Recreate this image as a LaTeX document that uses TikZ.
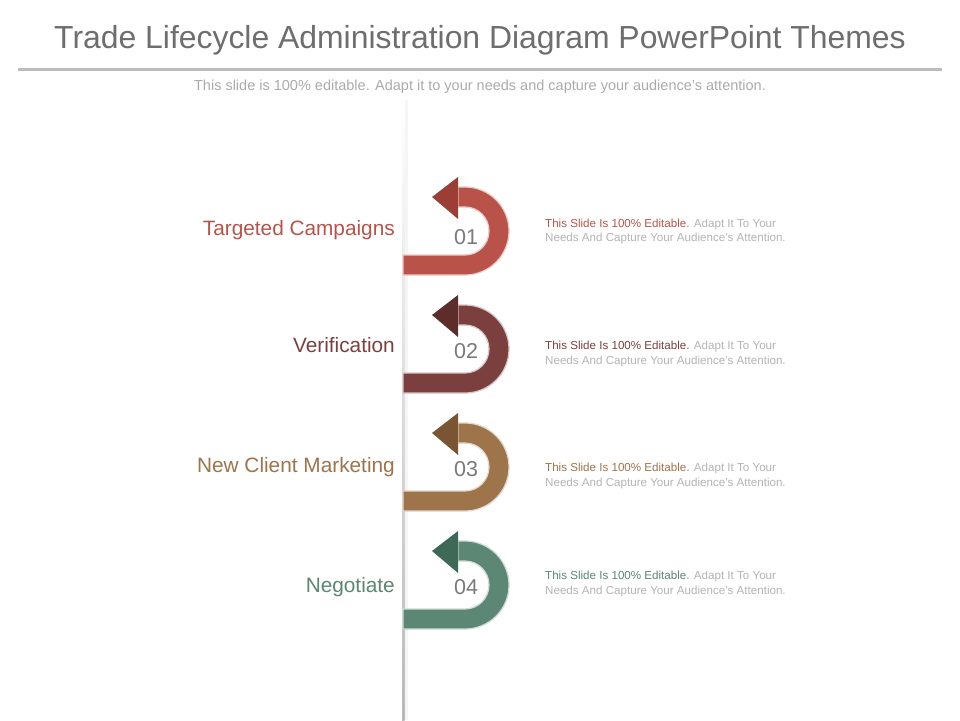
\documentclass[tikz,border=0pt]{standalone}
\usepackage{fontspec}
\setmainfont{Liberation Sans}
\definecolor{ared}{HTML}{B9534A}
\definecolor{hred}{HTML}{9A3E36}
\definecolor{amaroon}{HTML}{7B403E}
\definecolor{hmaroon}{HTML}{5C2D2B}
\definecolor{abrown}{HTML}{9E744B}
\definecolor{hbrown}{HTML}{7A5534}
\definecolor{agreen}{HTML}{5B8774}
\definecolor{hgreen}{HTML}{3E6957}
\definecolor{titlegray}{HTML}{6E6E6E}
\definecolor{subgray}{HTML}{ABABAB}
\definecolor{numgray}{HTML}{7A7A7A}
\definecolor{txtgray}{HTML}{B4B4B4}
\tikzset{ lbl/.style = { anchor     = east
                       , inner sep  = 0pt
                       , font       = \fontsize{20.8}{20.8}\selectfont
                       },
          num/.style = { text       = numgray
                       , inner sep  = 0pt
                       , font       = \fontsize{21.5}{21.5}\selectfont
                       },
          txt/.style = { anchor     = west
                       , align      = left
                       , inner sep  = 0pt
                       , text       = txtgray
                       , font       = \fontsize{11.6}{14.8}\selectfont
                       },
          pics/uturn/.style 2 args = { code = {
              \fill[#1, draw=#1!30, line width=1.2pt]
                  (-62,44) -- (0,44) arc[start angle=90, end angle=-90, radius=44]
                  -- (-7,-44) -- (-7,-24) -- (0,-24)
                  arc[start angle=-90, end angle=90, radius=24]
                  -- (-62,24) -- cycle;
              \fill[#2] (-33,-34) -- (-7,-54) -- (-7,-12) -- cycle;
          }}
        }
\newcommand{\slidetxt}[1]{{\color{#1}This Slide Is 100\% Editable.} Adapt It To Your\\Needs And Capture Your Audience's Attention.}

\begin{document}
\begin{tikzpicture}[x=1pt, y=-1pt]
    \useasboundingbox[fill=white] (0,0) rectangle (960,720);

    % heading
    \node[text=titlegray, font=\fontsize{31.9}{31.9}\selectfont] (title) at (480,40)
        {Trade Lifecycle Administration Diagram PowerPoint Themes};
    \fill[subgray!80] (18,67.5) rectangle (942,70.5);
    \node[text=subgray, font=\fontsize{14.5}{14.5}\selectfont] (sub) at (480,86.5)
        {This slide is 100\% editable. Adapt it to your needs and capture your audience's attention.};

    % spine
    \shade[top color=white, bottom color=gray!55] (402,100) rectangle (404.5,720);
    \fill[gray!8] (404.5,100) rectangle (408,720);

    % steps
    \pic at (465,231) {uturn={ared}{hred}};
    \pic at (465,349) {uturn={amaroon}{hmaroon}};
    \pic at (465,467) {uturn={abrown}{hbrown}};
    \pic at (465,585) {uturn={agreen}{hgreen}};

    \node[num] (n1) at (466,237) {01};
    \node[num] (n2) at (466,351) {02};
    \node[num] (n3) at (466,469) {03};
    \node[num] (n4) at (466,587) {04};

    \node[lbl, text=ared]    (l1) at (395,230) {Targeted Campaigns};
    \node[lbl, text=amaroon] (l2) at (395,345) {Verification};
    \node[lbl, text=abrown]  (l3) at (395,467) {New Client Marketing};
    \node[lbl, text=agreen]  (l4) at (395,587) {Negotiate};

    \node[txt] (d1) at (545,231.5) {\slidetxt{ared}};
    \node[txt] (d2) at (545,354)   {\slidetxt{amaroon}};
    \node[txt] (d3) at (545,476)   {\slidetxt{abrown}};
    \node[txt] (d4) at (545,584)   {\slidetxt{agreen}};
\end{tikzpicture}
\end{document}
